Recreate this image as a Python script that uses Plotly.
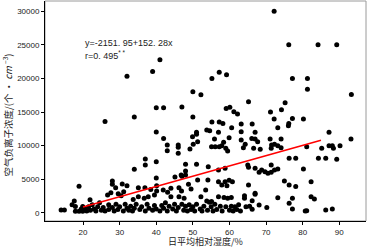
import plotly.graph_objects as go

# Daily mean relative humidity (%) and negative air ion concentration (ions/cm^3)
humidity = [
    32.0, 39.0, 41.0, 26.0, 34.0, 40.0, 42.0, 47.0,
    72.2, 76.2, 84.2, 89.3,
    50.0, 52.2, 55.2, 57.2, 59.2, 77.2, 81.3, 81.3, 93.3,
    65.2, 75.2, 59.1, 60.1, 61.2, 62.2, 71.2, 74.2,
    50.0, 55.2, 57.2, 58.2, 72.2, 77.2, 80.2, 76.2, 63.2, 66.2,
    40.0, 53.8, 54.6, 57.0, 55.9, 60.6, 63.2, 67.0, 73.2, 76.1, 87.2, 93.2,
    42.0, 43.0, 43.0, 46.0, 46.0, 46.0,
    37.0, 37.0, 40.0, 34.0, 40.0, 45.1, 47.0,
    49.9, 51.0, 51.0, 50.1, 49.2, 51.3, 51.0, 48.0, 48.0, 46.8, 48.0,
    55.1, 56.1, 57.2, 57.9, 58.4, 59.0, 59.5, 59.9, 63.2, 63.8, 64.3, 66.1, 66.6,
    54.2, 54.1, 58.8, 65.0, 57.0, 65.2,
    67.0, 67.7, 68.4, 71.1, 71.5, 71.4, 72.3, 73.2, 74.1, 74.1,
    76.3, 78.1,
    67.0, 68.1, 68.8, 69.7, 70.5, 71.4, 71.4, 72.3, 73.2, 80.2,
    81.1, 85.2, 87.2, 88.1, 88.4, 90.2, 84.3, 86.3, 89.3,
    14.0, 14.9, 17.0, 17.6, 17.9, 17.9, 18.9, 18.9, 19.9, 19.9, 19.5,
    21.9, 20.5, 21.0, 21.5, 22.0, 22.5, 23.0, 23.5, 24.0, 24.5, 25.0, 25.5, 26.0,
    26.7, 27.0, 27.6, 27.0, 28.0, 28.0, 28.0, 28.5, 28.9, 29.0, 29.5, 29.6, 30.0,
    30.4, 30.7, 31.1, 32.0, 31.0, 31.5, 32.0, 32.5, 33.0, 33.7, 33.5, 34.0, 34.5,
    35.1, 35.1, 35.5, 36.0, 36.7, 36.9, 37.0, 37.5, 37.8, 38.0, 38.5, 39.0, 39.5,
    39.5, 40.0,
    40.1, 40.1, 41.0, 41.9, 41.5, 42.0, 42.5, 43.1, 43.0, 43.5, 44.0, 44.0, 44.5,
    45.0, 45.5, 46.2, 46.2, 46.0, 46.9, 47.0, 47.5, 47.6, 48.0, 48.5, 48.8, 49.0,
    49.5, 49.5, 50.0,
    50.5, 51.3, 51.0, 52.2, 52.0, 52.5, 53.5, 53.0, 53.8, 54.5, 55.1, 54.0, 55.0,
    55.5, 56.0, 56.5, 57.0, 57.0, 57.5, 57.9, 58.0, 58.5, 58.8, 59.0, 59.3, 59.5,
    59.9, 60.0, 60.5, 60.8, 60.5,
    61.0, 61.5, 62.0, 62.5, 63.0, 64.1, 64.1, 64.5, 65.2, 65.5, 66.2, 66.2, 67.0,
    67.0, 68.1, 70.2,
    73.2, 75.0, 76.3, 78.1, 77.2, 76.3, 77.2, 80.7, 82.3, 82.3, 83.2, 81.1, 86.3, 88.1,
]
ion_conc = [
    20330, 21030, 22750, 13600, 14250, 15630, 15630, 15730,
    29980, 24980, 24980, 24980,
    18000, 17560, 19990, 20920, 20530, 19990, 19990, 18400, 17610,
    16520, 16370, 15540, 15690, 15030, 14690, 14990, 15330,
    14250, 13500, 13500, 13310, 13950, 14050, 13950, 13310, 13200, 13200,
    12020, 12320, 12200, 11980, 10980, 12670, 12070, 11980, 12670, 12960, 11980, 10980,
    11080, 10090, 9250, 10090, 9750, 8860,
    8010, 7120, 7610, 6480, 5190, 5340, 5440,
    11320, 11980, 11680, 10190, 9500, 10580, 7230, 7230, 6230, 5640, 5640,
    9840, 9840, 9840, 9990, 10490, 9600, 9200, 11180, 10830, 9690, 10190, 11080, 9600,
    6870, 4900, 6630, 7120, 6380, 6780,
    10980, 10580, 9450, 10980, 10090, 9600, 10190, 9990, 9690, 10980,
    8110, 8110,
    6630, 6040, 6380, 6130, 5890, 6040, 7120, 6380, 6530, 6530,
    9840, 9600, 9990, 9990, 9600, 9990, 8110, 8110, 7970,
    450, 450, 1230, 1780, 970, 250, 3960, 250, 250, 970, 600,
    1970, 600, 300, 900, 400, 1200, 600, 300, 900, 1500, 400, 800, 300,
    2670, 1200, 3010, 500, 4750, 4260, 800, 300, 3760, 1290, 500, 2860, 900,
    2570, 4300, 3160, 4050, 300, 1290, 700, 400, 1000, 2000, 300, 700, 1290,
    3760, 2400, 500, 900, 2200, 3760, 300, 1290, 2400, 700, 3500, 400, 2670,
    1100, 600,
    4050, 3260, 300, 3410, 1100, 700, 1500, 3070, 300, 1000, 3670, 2420, 600,
    1290, 300, 3760, 2420, 800, 3260, 1290, 400, 2170, 1000, 300, 4260, 1200,
    3560, 500, 900,
    300, 4900, 1300, 2420, 600, 300, 3410, 1000, 1780, 1580, 1700, 400, 900,
    300, 1300, 500, 4650, 2400, 1000, 4150, 300, 2300, 4650, 900, 4050, 2200,
    4850, 400, 1000, 4650, 2300,
    300, 900, 500, 1200, 300, 2570, 2180, 900, 4150, 1000, 1820, 550, 2920,
    2770, 1190, 790,
    2270, 4750, 4150, 3910, 2180, 1440, 590, 300, 4650, 2420, 2080, 340, 450, 590,
]

fit_x = [20, 85]
intercept, slope = -2151.95, 152.28
fit_y = [intercept + slope * v for v in fit_x]

x_ticks = [20, 30, 40, 50, 60, 70, 80, 90]
y_ticks = [0, 5000, 10000, 15000, 20000, 25000, 30000]
y_tick_labels = ["0", "5000", "10000", "15000", "20000", "25000", "30000"]

x_title = "日平均相对湿度/%"
y_title = "空气负离子浓度/(个 · <i>cm</i> <sup>−3</sup>)"

fig = go.Figure()
fig.add_trace(go.Scatter(x=humidity, y=ion_conc, mode="markers",
                         marker=dict(color="black", size=5, line=dict(width=0)),
                         showlegend=False, hoverinfo="skip"))
fig.add_trace(go.Scatter(x=fit_x, y=fit_y, mode="lines",
                         line=dict(color="#ff0000", width=1.6),
                         showlegend=False, hoverinfo="skip"))

font = "Liberation Sans, Arial, sans-serif"
cjk = "Noto Sans CJK SC"
fig.update_layout(
    width=368, height=247,
    margin=dict(l=45, r=2, t=1, b=26, autoexpand=False),
    paper_bgcolor="white", plot_bgcolor="white",
    font=dict(family=font, size=8, color="#222"),
    shapes=[dict(type="rect", xref="paper", yref="paper", x0=0, y0=0, x1=1, y1=1,
                 line=dict(color="#9a9a9a", width=1), layer="below")],
    annotations=[
        dict(x=20, y=25250, xref="x", yref="y", text="y=-2151. 95+152. 28x",
             showarrow=False, xanchor="left", yanchor="middle",
             font=dict(size=9, color="#222")),
        dict(x=20, y=23450, xref="x", yref="y", text="r=0. 495<sup>* *</sup>",
             showarrow=False, xanchor="left", yanchor="middle",
             font=dict(size=9, color="#222")),
        dict(x=0.5, y=-0.092, xref="paper", yref="paper", text=x_title,
             showarrow=False, xanchor="center", yanchor="middle",
             font=dict(size=9, family=cjk, color="#222")),
        dict(x=-0.118, y=0.48, xref="paper", yref="paper", text=y_title,
             showarrow=False, xanchor="center", yanchor="middle", textangle=-90,
             font=dict(size=9.5, family=cjk, color="#222")),
    ],
)
fig.update_xaxes(range=[9.6, 97.3], tickvals=x_ticks, showgrid=False, zeroline=False,
                 showline=True, linecolor="black", linewidth=1, automargin=False,
                 ticks="outside", ticklen=3, tickcolor="black")
fig.update_yaxes(range=[-1200, 31500], tickvals=y_ticks, ticktext=y_tick_labels,
                 showgrid=False, zeroline=False, automargin=False,
                 showline=True, linecolor="black", linewidth=1,
                 ticks="outside", ticklen=3, tickcolor="black")

fig.write_html("out.html", config={"displayModeBar": False},
               post_script="document.body.style.margin='0';document.body.style.overflow='hidden';")
